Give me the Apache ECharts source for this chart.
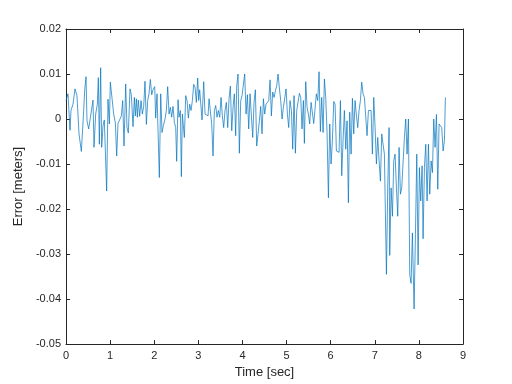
<!DOCTYPE html>
<html>
<head>
<meta charset="utf-8">
<script src="https://cdn.jsdelivr.net/npm/echarts@6/dist/echarts.min.js"></script>
<style>html,body{margin:0;padding:0;background:#fff}#c{width:512px;height:384px}</style>
</head>
<body>
<div id="c"></div>
<script>
const timeSec = [0.00,0.045,0.091,0.113,0.159,0.204,0.249,0.295,0.348,0.401,0.423,0.454,0.476,0.514,0.559,0.612,0.635,0.673,0.711,0.733,0.756,0.786,0.809,0.839,0.869,0.922,0.952,0.983,1.005,1.043,1.081,1.119,1.149,1.179,1.217,1.255,1.285,1.315,1.353,1.383,1.413,1.451,1.481,1.519,1.550,1.572,1.595,1.618,1.640,1.670,1.701,1.731,1.761,1.791,1.822,1.852,1.882,1.912,1.943,1.973,2.011,2.033,2.063,2.094,2.116,2.147,2.177,2.207,2.245,2.275,2.305,2.336,2.366,2.396,2.426,2.457,2.487,2.509,2.540,2.562,2.593,2.615,2.638,2.661,2.683,2.714,2.744,2.774,2.804,2.834,2.865,2.895,2.925,2.955,2.986,3.008,3.031,3.061,3.084,3.122,3.152,3.182,3.220,3.243,3.273,3.303,3.333,3.364,3.394,3.424,3.454,3.485,3.515,3.545,3.575,3.605,3.636,3.666,3.696,3.726,3.757,3.787,3.817,3.847,3.870,3.900,3.930,3.961,3.991,4.021,4.051,4.082,4.112,4.142,4.172,4.203,4.233,4.263,4.293,4.323,4.354,4.384,4.414,4.444,4.475,4.505,4.535,4.565,4.596,4.626,4.656,4.686,4.717,4.747,4.777,4.807,4.837,4.868,4.898,4.928,4.958,4.989,5.019,5.049,5.079,5.110,5.140,5.170,5.200,5.231,5.261,5.291,5.321,5.351,5.382,5.404,5.435,5.465,5.495,5.525,5.556,5.586,5.616,5.646,5.676,5.707,5.737,5.767,5.797,5.828,5.858,5.888,5.918,5.949,5.979,6.009,6.039,6.070,6.100,6.130,6.160,6.190,6.221,6.251,6.281,6.311,6.342,6.372,6.402,6.432,6.463,6.493,6.523,6.553,6.584,6.614,6.644,6.674,6.704,6.735,6.765,6.795,6.825,6.856,6.886,6.916,6.946,6.977,7.007,7.037,7.067,7.098,7.128,7.158,7.188,7.218,7.264,7.294,7.324,7.339,7.370,7.400,7.430,7.460,7.491,7.521,7.551,7.581,7.611,7.642,7.672,7.702,7.732,7.763,7.793,7.823,7.853,7.891,7.922,7.952,7.982,8.012,8.042,8.073,8.095,8.126,8.156,8.186,8.216,8.246,8.277,8.307,8.337,8.367,8.398,8.428,8.458,8.488,8.518,8.549,8.579,8.601];
const errorMeters = [0.0041,0.0056,-0.0025,0.0019,0.0033,0.0067,0.0052,-0.0033,-0.0072,0.0019,0.0063,0.0094,-0.0004,-0.0022,-0.0026,0.0042,-0.0063,0.0011,0.0033,0.0092,-0.0056,0.0114,-0.0063,-0.0015,-0.0002,-0.016,0.0044,-0.0011,0.0082,0.0078,0.0011,-0.0009,-0.0082,-0.001,-0.0011,0.0007,0.0041,-0.006,0.0078,-0.0019,-0.0031,0.0067,0.0054,-0.0017,0.0048,0.0007,0.0045,0.0004,0.0042,0.0006,0.0041,0.0011,0.0028,0.0084,-0.0012,0.0041,0.0057,0.0088,0.0054,0.0065,0.0072,0.0002,0.0056,0.006,-0.013,0.0056,-0.003,-0.0015,0,0.0019,0.0072,0.0011,0.0026,0.0004,0.0028,-0.0007,-0.0019,-0.0094,0.0043,0.0004,0.0019,-0.0128,0.0011,0.0007,-0.0041,0.0052,0.0041,0.0002,0.0033,0.0019,0.0041,0.0077,0.0071,0.0037,0.0091,0.0041,0.0065,0.0067,-0.0002,0.0083,0.0011,0.0011,0.0007,0.0045,0.0041,-0.0011,-0.0082,0.0019,0.003,0.0004,0.0019,0.0004,0.0048,0.0007,-0.0019,0.0019,0.0037,-0.0019,0.0045,0.0073,-0.0026,0.0026,0.0056,-0.0037,0.0073,0.01,-0.0076,0.0041,0.0052,0.0054,0.01,0.0011,0.0054,-0.0022,0.0056,0.0054,-0.0041,0.0037,0.0065,-0.006,-0.0033,-0.0004,0.0028,-0.0033,0.0045,0.0011,0.0033,0.0033,0.0041,0.0087,0.0007,0.006,0.0048,0.0063,0.0074,0.01,0.0069,0.0041,0,0.0026,0.0026,0.0067,0.0011,-0.0019,0.0041,0.0019,-0.0067,0.0052,-0.0076,0.0019,0.0019,0.0057,0.0048,-0.0022,0.0041,-0.0054,0.0083,0.0026,0.0011,-0.0011,0.0037,0.0041,-0.001,-0.0011,0.0056,0.0041,0.0105,-0.0028,0.0048,-0.003,0.0089,0.0048,-0.003,-0.0175,-0.0011,-0.01,-0.0048,0.0039,0.0033,-0.0071,-0.0074,-0.0074,0.0041,-0.0126,-0.0048,0.0019,-0.0067,-0.0004,-0.0186,0.0015,-0.0078,0.0046,-0.0033,0.0041,0.0007,-0.0019,0.0019,0.0041,0.0082,0.0056,0.0048,0.0052,-0.0037,0.0019,0.0019,0.0019,-0.0078,0.0048,-0.0019,-0.01,-0.0041,-0.0093,-0.0138,-0.0033,-0.0056,-0.0078,-0.0345,-0.0153,-0.0019,-0.0303,-0.0153,-0.0216,-0.0093,-0.0078,-0.0153,-0.0216,-0.0063,-0.0167,-0.0153,-0.0153,-0.0041,0,-0.0078,0,-0.0346,-0.0365,-0.0253,-0.0422,-0.0257,-0.0078,-0.0324,-0.0108,-0.0182,-0.0104,-0.0266,-0.0108,-0.0056,-0.0182,-0.0056,-0.0167,-0.0093,-0.0119,0,-0.0063,0.001,-0.0156,-0.0011,-0.0011,-0.0019,-0.0071,-0.0048,0.0048];
const xTicks = [0,1,2,3,4,5,6,7,8,9];
const yTickLabels = ['-0.05','-0.04','-0.03','-0.02','-0.01','0','0.01','0.02'];

const points = timeSec.map((t, i) => [t, errorMeters[i]]);
const axisColor = '#262626';
const font = 'Liberation Sans, Arial, Helvetica, sans-serif';
const fmtY = v => { const r = Math.round(v * 100); const lbl = yTickLabels.find(s => Math.round(parseFloat(s) * 100) === r); return lbl !== undefined ? lbl : ''; };

const chart = echarts.init(document.getElementById('c'), null, {renderer: 'canvas'});
chart.setOption({
  backgroundColor: '#ffffff',
  animation: false,
  grid: {left: 66, right: 49, top: 29, bottom: 39, containLabel: false},
  xAxis: [{
    type: 'value', min: xTicks[0], max: xTicks[xTicks.length - 1], interval: 1,
    position: 'bottom',
    name: 'Time [sec]', nameLocation: 'middle', nameGap: 21,
    nameTextStyle: {color: axisColor, fontSize: 13, fontFamily: font},
    axisLine: {show: true, onZero: false, lineStyle: {color: axisColor, width: 1}},
    axisTick: {show: true, inside: true, length: 4, lineStyle: {color: axisColor}},
    axisLabel: {color: axisColor, fontSize: 11, fontFamily: font, margin: 6},
    splitLine: {show: false}
  }, {
    type: 'value', min: xTicks[0], max: xTicks[xTicks.length - 1], interval: 1,
    position: 'top',
    axisLine: {show: true, onZero: false, lineStyle: {color: axisColor, width: 1}},
    axisTick: {show: true, inside: true, length: 4, lineStyle: {color: axisColor}},
    axisLabel: {show: false}, splitLine: {show: false}
  }],
  yAxis: [{
    type: 'value', min: -0.05, max: 0.02, interval: 0.01,
    position: 'left',
    name: 'Error [meters]', nameLocation: 'middle', nameGap: 36, nameRotate: 90,
    nameTextStyle: {color: axisColor, fontSize: 13, fontFamily: font},
    axisLine: {show: true, onZero: false, lineStyle: {color: axisColor, width: 1}},
    axisTick: {show: true, inside: true, length: 4, lineStyle: {color: axisColor}},
    axisLabel: {color: axisColor, fontSize: 11, fontFamily: font, margin: 5, formatter: fmtY},
    splitLine: {show: false}
  }, {
    type: 'value', min: -0.05, max: 0.02, interval: 0.01,
    position: 'right',
    axisLine: {show: true, onZero: false, lineStyle: {color: axisColor, width: 1}},
    axisTick: {show: true, inside: true, length: 4, lineStyle: {color: axisColor}},
    axisLabel: {show: false}, splitLine: {show: false}
  }],
  series: [{
    type: 'line', data: points, xAxisIndex: 0, yAxisIndex: 0,
    showSymbol: false, symbol: 'none',
    lineStyle: {color: '#0072BD', width: 0.7},
    silent: true
  }]
});
</script>
</body>
</html>
